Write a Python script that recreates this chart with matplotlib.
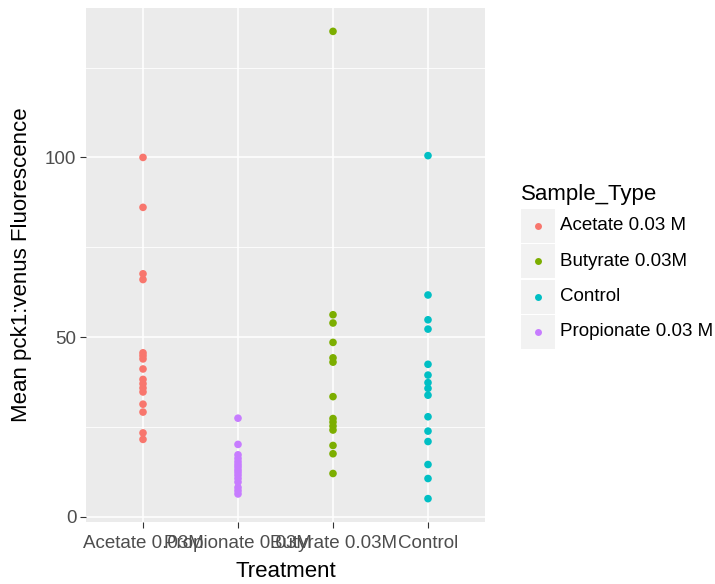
import numpy as np
import matplotlib
matplotlib.use("Agg")
import matplotlib.pyplot as plt
from matplotlib.patches import Rectangle
from matplotlib.lines import Line2D

plt.rcParams['font.family'] = ['Liberation Sans', 'DejaVu Sans']

# categories on the x axis (ggplot order) and legend order
treatments = ["Acetate 0.03M", "Propionate 0.03M", "Butyrate 0.03M", "Control"]
legend_labels = ["Acetate 0.03 M", "Butyrate 0.03M", "Control", "Propionate 0.03 M"]
legend_colors = ["#F8766D", "#7CAE00", "#00BFC4", "#C77CFF"]

acetate = [100, 86.1, 67.6, 66.0, 45.6, 44.8, 43.9, 41.1, 38.2, 37.0, 35.8,
           34.7, 31.3, 29.1, 23.3, 21.5]
propionate = [27.4, 20.1, 17.2, 16.2, 15.3, 14.5, 13.8, 13.0, 12.3, 11.5,
              10.6, 9.6, 8.1, 7.2, 6.3]
butyrate = [135.1, 56.2, 53.9, 48.5, 44.2, 43.0, 33.4, 27.3, 26.3, 25.2,
            24.1, 19.8, 17.5, 12.0]
control = [100.5, 61.7, 54.8, 52.2, 42.4, 39.4, 37.3, 35.7, 33.8, 27.8,
           23.8, 20.9, 14.5, 10.6, 5.0]

series = [acetate, propionate, butyrate, control]
series_colors = ["#F8766D", "#C77CFF", "#7CAE00", "#00BFC4"]

W, H = 715, 584
fig = plt.figure(figsize=(W / 100, H / 100), dpi=100)
ax = fig.add_axes([86 / W, (H - 522) / H, 399 / W, 514 / H])
ax.set_facecolor("#EBEBEB")
for s in ax.spines.values():
    s.set_visible(False)

for i, (vals, col) in enumerate(zip(series, series_colors)):
    ax.scatter([i + 1] * len(vals), vals, s=30, color=col, edgecolors="none", zorder=3)

allv = np.concatenate([np.array(v) for v in series])
lo, hi = allv.min(), allv.max()
pad = (hi - lo) * 0.05
ax.set_ylim(lo - pad, hi + pad)
ax.set_xlim(0.4, 4.6)

ax.set_yticks([0, 50, 100])
ax.set_yticks([25, 75, 125], minor=True)
ax.set_xticks([1, 2, 3, 4])
ax.set_xticklabels(treatments)
ax.grid(True, which="major", color="white", linewidth=1.1, zorder=0)
ax.grid(True, which="minor", axis="y", color="white", linewidth=0.6, zorder=0)
ax.set_axisbelow(True)
ax.tick_params(axis="both", which="major", length=4, width=0.8, color="#333333",
               labelsize=13.5, labelcolor="#4D4D4D", pad=3)
ax.tick_params(axis="x", which="major", pad=5)
ax.tick_params(axis="both", which="minor", length=0)

ax.set_xlabel("Treatment", fontsize=16, color="black", labelpad=7)
ax.set_ylabel("Mean pck1:venus Fluorescence", fontsize=16, color="black", labelpad=9)

# legend drawn in pixel coordinates
def px(x, y):
    return x / W, 1 - y / H

fig.text(*px(521, 200), "Sample_Type", fontsize=16, ha="left", va="baseline")
row_top = 209
row_h = 35.3
for i, (lab, col) in enumerate(zip(legend_labels, legend_colors)):
    y0 = row_top + i * row_h
    x0, y1 = px(521, y0 + 34)
    fig.patches.append(Rectangle((x0, y1), 34 / W, 34 / H, transform=fig.transFigure,
                                 facecolor="#F2F2F2", edgecolor="none"))
    cx, cy = px(538, y0 + 17)
    fig.add_artist(Line2D([cx], [cy], marker="o", markersize=5, color=col,
                          markeredgewidth=0, transform=fig.transFigure))
    fig.text(*px(560, y0 + 17), lab, fontsize=13.5, ha="left", va="center")

fig.savefig("out.png", dpi=100)
